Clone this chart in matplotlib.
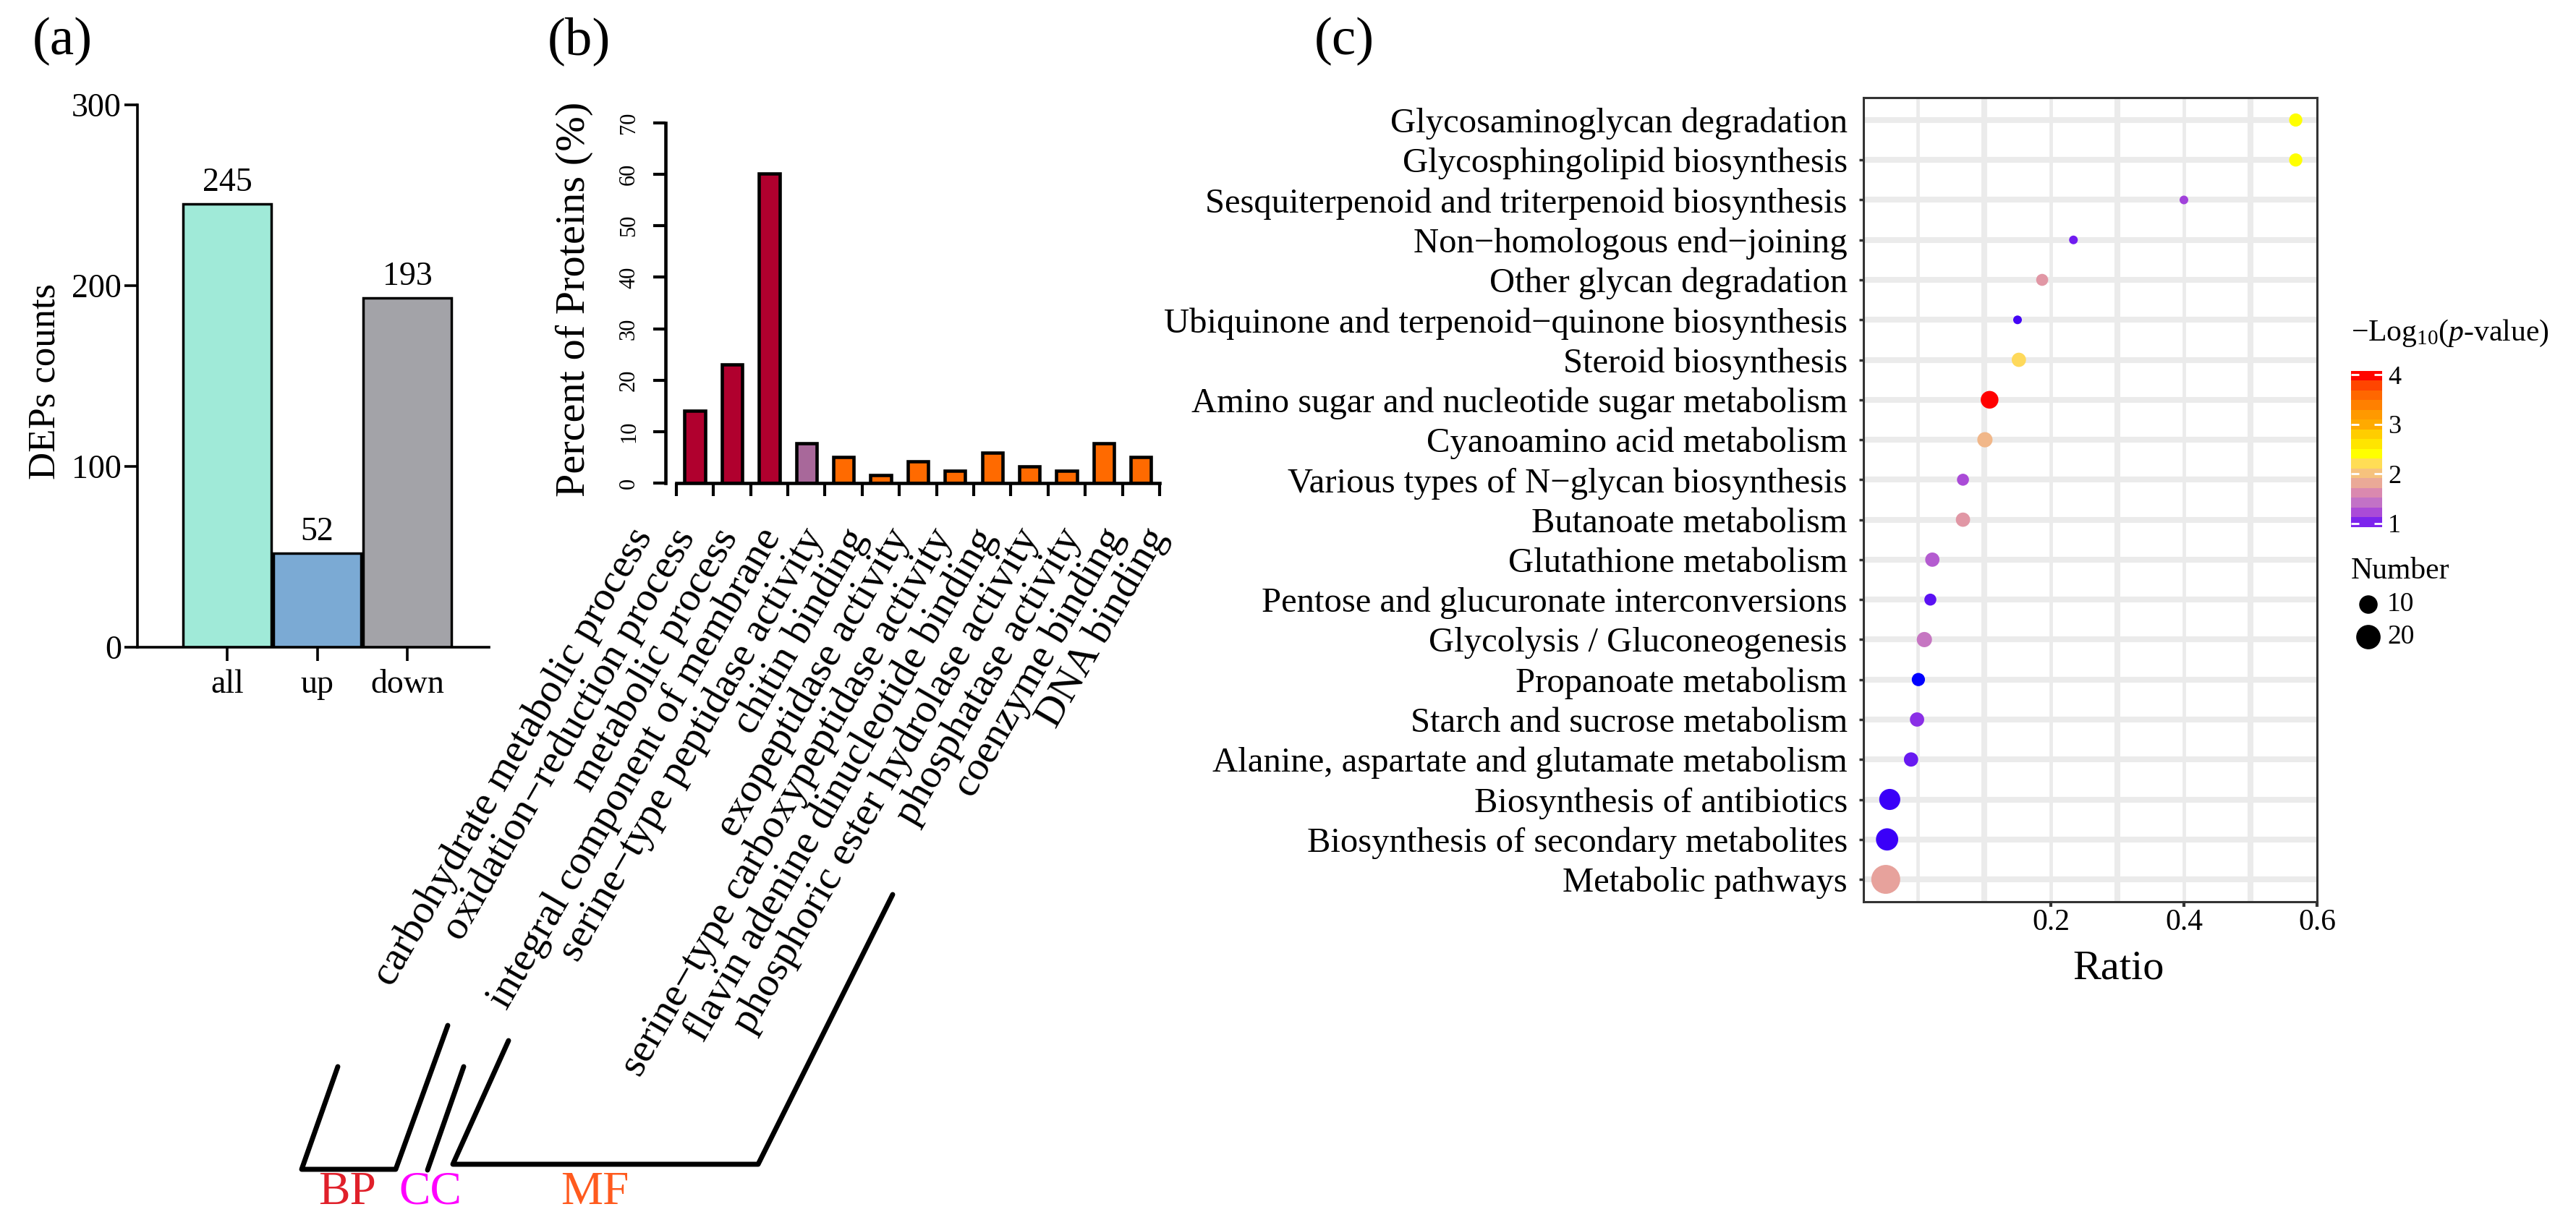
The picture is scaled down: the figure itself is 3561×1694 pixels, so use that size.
import numpy as np
import matplotlib
matplotlib.use("Agg")
import matplotlib.pyplot as plt
from matplotlib.colors import LinearSegmentedColormap, Normalize
from matplotlib.lines import Line2D
from matplotlib.transforms import blended_transform_factory
import matplotlib.cm as cm

plt.rcParams['font.family'] = ['Liberation Serif', 'DejaVu Serif']
plt.rcParams['mathtext.fontset'] = 'custom'
plt.rcParams['mathtext.rm'] = 'Liberation Serif'
plt.rcParams['mathtext.it'] = 'Liberation Serif:italic'

# ---------------- data ----------------
# (a)
dep_groups = ['all', 'up', 'down']
dep_counts = [245, 52, 193]
dep_colors = ['#A0EAD8', '#7BAAD4', '#A3A3A8']

# (b)
go_terms = ['carbohydrate metabolic process', 'oxidation\u2212reduction process',
            'metabolic process', 'integral component of membrane',
            'serine\u2212type peptidase activity', 'chitin binding',
            'exopeptidase activity', 'serine\u2212type carboxypeptidase activity',
            'flavin adenine dinucleotide binding', 'phosphoric ester hydrolase activity',
            'phosphatase activity', 'coenzyme binding', 'DNA binding']
go_percent = [14.1, 23.1, 60.2, 7.7, 5.0, 1.5, 4.2, 2.4, 5.9, 3.3, 2.4, 7.7, 5.0]
go_category = ['BP', 'BP', 'BP', 'CC', 'MF', 'MF', 'MF', 'MF', 'MF', 'MF', 'MF', 'MF', 'MF']
go_cat_colors = {'BP': '#B0002E', 'CC': '#A8689A', 'MF': '#FF6A00'}

# (c)
pathways = ['Glycosaminoglycan degradation', 'Glycosphingolipid biosynthesis',
            'Sesquiterpenoid and triterpenoid biosynthesis', 'Non\u2212homologous end\u2212joining',
            'Other glycan degradation', 'Ubiquinone and terpenoid\u2212quinone biosynthesis',
            'Steroid biosynthesis', 'Amino sugar and nucleotide sugar metabolism',
            'Cyanoamino acid metabolism', 'Various types of N\u2212glycan biosynthesis',
            'Butanoate metabolism', 'Glutathione metabolism',
            'Pentose and glucuronate interconversions', 'Glycolysis / Gluconeogenesis',
            'Propanoate metabolism', 'Starch and sucrose metabolism',
            'Alanine, aspartate and glutamate metabolism', 'Biosynthesis of antibiotics',
            'Biosynthesis of secondary metabolites', 'Metabolic pathways']
ratio = [0.568, 0.568, 0.400, 0.234, 0.187, 0.150, 0.152, 0.108, 0.101, 0.068,
         0.068, 0.022, 0.019, 0.010, 0.001, -0.001, -0.010, -0.042, -0.046, -0.048]
number = [4, 4, 1, 1, 3, 1, 5, 9, 6, 3, 5, 5, 3, 6, 4, 5, 5, 14, 16, 30]
neglogp = [2.4, 2.4, 1.18, 0.95, 1.7, 0.68, 2.17, 4.0, 1.93, 1.22,
           1.7, 1.3, 0.82, 1.45, 0.3, 1.08, 0.9, 0.62, 0.62, 1.76]
size_legend = [10, 20]
cbar_ticks = [1, 2, 3, 4]
ratio_ticks = [0.2, 0.4, 0.6]
grid_major = [0.1, 0.3, 0.5]
grid_minor = [0.0, 0.2, 0.4]

# ---------------- figure ----------------
W, H = 3562, 1694
DPI = 100
fig = plt.figure(figsize=(W / DPI, H / DPI), dpi=DPI)


def rect(l, t, r, b):
    return [l / W, 1 - b / H, (r - l) / W, (b - t) / H]


def fx(x):
    return x / W


def fy(y):
    return 1 - y / H


def size_fn(n):
    d_px = 5.75 + 6.25 * np.sqrt(np.asarray(n, dtype=float))
    return (d_px * 72 / DPI) ** 2


# ---------------- panel (a) ----------------
axA = fig.add_axes(rect(190, 145, 676, 895))
xa = np.arange(1, len(dep_groups) + 1)
axA.bar(xa, dep_counts, width=0.98, color=dep_colors, edgecolor='black', linewidth=2.5, zorder=2)
for x, v in zip(xa, dep_counts):
    axA.annotate(str(v), (x, v), xytext=(0, 13), textcoords='offset points',
                 ha='center', va='baseline', fontsize=33)
axA.set_xlim(0, 3.91)
axA.set_ylim(0, 300)
axA.set_yticks([0, 100, 200, 300])
axA.set_xticks(xa)
axA.set_xticklabels(dep_groups)
for s in ['top', 'right']:
    axA.spines[s].set_visible(False)
for s in ['left', 'bottom']:
    axA.spines[s].set_linewidth(2.6)
axA.tick_params(axis='y', length=13, width=2.6, labelsize=33, pad=3)
axA.tick_params(axis='x', length=14, width=2.6, labelsize=33, pad=8)
axA.set_ylabel('DEPs counts', fontsize=38)
axA.yaxis.label.set_va('center')
axA.yaxis.set_label_coords(-0.263, 0.49)
fig.text(fx(45), fy(57), '(a)', fontsize=54, va='center', ha='left')

# ---------------- panel (b) ----------------
axB = fig.add_axes(rect(920, 170, 1603, 668))
xb = np.arange(len(go_terms))
axB.bar(xb, go_percent, width=0.55, color=[go_cat_colors[c] for c in go_category],
        edgecolor='black', linewidth=3.3, zorder=2)
axB.set_xlim(-0.79, 12.5)
axB.set_ylim(0, 70)
for s in ['top', 'right']:
    axB.spines[s].set_visible(False)
for s in ['left', 'bottom']:
    axB.spines[s].set_linewidth(3.3)
axB.spines['left'].set_bounds(0, 70)
axB.spines['bottom'].set_bounds(-0.5, len(go_terms) - 0.5)
axB.set_yticks(np.arange(0, 71, 10))
axB.set_yticklabels([str(v) for v in range(0, 71, 10)], rotation=90, va='center')
axB.tick_params(axis='y', length=12, width=3, labelsize=22, pad=14)
axB.set_xticks(np.arange(len(go_terms) + 1) - 0.5)
axB.set_xticklabels([])
axB.tick_params(axis='x', length=13, width=3)
axB.set_ylabel('Percent of Proteins (%)', fontsize=42)
axB.yaxis.label.set_va('center')
axB.yaxis.set_label_coords((794 - 920) / 683, 0.51)
trB = blended_transform_factory(axB.transData, axB.transAxes)
mid = (len(go_terms) - 1) / 2
for i, term in enumerate(go_terms):
    xl = i + (i - mid) * 0.155 - 0.45
    axB.text(xl, -0.1345, term, transform=trB, rotation=60, rotation_mode='anchor',
             ha='right', va='center', fontsize=41, clip_on=False)
fig.text(fx(757), fy(57), '(b)', fontsize=54, va='center', ha='left')

# brackets
bracket_lw = 5
for pts in [[(467, 1475), (417, 1617), (547, 1617), (619, 1418)],
            [(591, 1618), (641, 1475)],
            [(703, 1439), (626, 1610), (1048, 1610), (1234, 1237)]]:
    xs = [fx(p[0]) for p in pts]
    ys = [fy(p[1]) for p in pts]
    fig.add_artist(Line2D(xs, ys, color='black', lw=bracket_lw, solid_capstyle='round',
                          solid_joinstyle='round'))
fig.text(fx(480), fy(1649), 'BP', color='#E0202A', fontsize=47, ha='center', va='center')
fig.text(fx(595), fy(1649), 'CC', color='#FF00FF', fontsize=47, ha='center', va='center')
fig.text(fx(822), fy(1649), 'MF', color='#FF5A1E', fontsize=47, ha='center', va='center')

# ---------------- panel (c) ----------------
nodes = [(0.30, '#0000FF'), (0.62, '#3A00F8'), (1.0, '#7A22EE'), (1.2, '#A848D8'),
         (1.4, '#C070C8'), (1.6, '#DA88B0'), (1.8, '#EAA898'), (2.0, '#F5C080'),
         (2.2, '#FFDD55'), (2.4, '#FFFF00'), (2.6, '#FFE600'), (2.8, '#FFCC00'),
         (3.0, '#FFAA00'), (3.2, '#FF9900'), (3.4, '#FF7F00'), (3.6, '#FF6600'),
         (3.8, '#FF4400'), (4.0, '#FF0000')]
vmin, vmax = nodes[0][0], nodes[-1][0]
cmap = LinearSegmentedColormap.from_list(
    'kegg', [((v - vmin) / (vmax - vmin), c) for v, c in nodes])
norm = Normalize(vmin=vmin, vmax=vmax)

axC = fig.add_axes(rect(2576, 135, 3203, 1247))
rows = np.arange(len(pathways))[::-1]
axC.set_xlim(-0.0815, 0.6)
axC.set_ylim(-0.56, len(pathways) - 1 + 0.56)
for g in grid_major:
    axC.axvline(g, color='#EBEBEB', lw=5.8, zorder=0)
for g in grid_minor:
    axC.axvline(g, color='#EBEBEB', lw=3.4, zorder=0)
for r in rows:
    axC.axhline(r, color='#EBEBEB', lw=5.8, zorder=0)
axC.scatter(ratio, rows, s=size_fn(number), c=neglogp, cmap=cmap, norm=norm,
            linewidths=0, zorder=3)
axC.set_yticks(rows)
axC.set_yticklabels(pathways)
axC.tick_params(axis='y', length=4, width=2.5, color='#333333', labelsize=35, pad=12)
axC.yaxis.get_major_ticks()[0].tick1line.set_visible(False)
axC.set_xticks(ratio_ticks)
axC.set_xticklabels(['%.1f' % t for t in ratio_ticks])
axC.tick_params(axis='x', length=5, width=3, color='#333333', labelsize=30, pad=2)
for s in axC.spines.values():
    s.set_color('#333333')
    s.set_linewidth(2.2)
axC.set_xlabel('Ratio', fontsize=42)
axC.xaxis.label.set_va('center')
axC.xaxis.set_label_coords(0.563, -0.0836)
fig.text(fx(1817), fy(57), '(c)', fontsize=54, va='center', ha='left')

# colour legend
fig.text(fx(3250), fy(461), r'$-$Log$_{10}$($p$-value)', fontsize=30, va='center', ha='left')
cax = fig.add_axes(rect(3250, 513, 3293, 729))
sm = cm.ScalarMappable(norm=norm, cmap=cmap)
cb = fig.colorbar(sm, cax=cax, boundaries=np.linspace(0.92, 4.08, 17), ticks=cbar_ticks)
cb.outline.set_visible(False)
cax.tick_params(direction='in', color='white', length=8, width=2, left=True, right=True,
                labelsize=26, pad=6)
cax.set_yticklabels([str(t) for t in cbar_ticks])

# size legend
fig.text(fx(3250), fy(790), 'Number', fontsize=30, va='center', ha='left')
lax = fig.add_axes(rect(3240, 810, 3420, 905))
lax.set_xlim(0, 1)
lax.set_ylim(-0.533, 1.578)
lax.axis('off')
ly = np.arange(len(size_legend))[::-1]
lax.scatter([0.189] * len(size_legend), ly, s=size_fn(size_legend), color='black', linewidths=0)
for yy, n in zip(ly, size_legend):
    lax.text(0.333, yy, str(n), fontsize=27, va='center', ha='left')

fig.savefig('out.png', dpi=DPI)
